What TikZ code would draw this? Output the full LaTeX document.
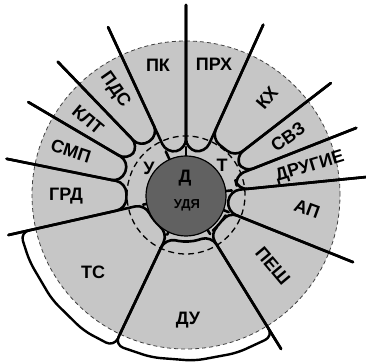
\documentclass[tikz,border=0pt]{standalone}
\usepackage{fontspec}
\setmainfont{Liberation Sans}
\begin{document}
\begin{tikzpicture}[x=1pt,y=1pt,
  ray/.style={line width=2.6pt, line cap=round, line join=round},
  sector/.style={line width=2.6pt, rounded corners=10pt, line join=round, line cap=round},
  tab/.style={line width=2.4pt, rounded corners=9pt, line join=round},
  lbl/.style={font=\fontsize{18}{18}\selectfont\bfseries, inner sep=0pt},
]
\useasboundingbox (-186,-168) rectangle (180,195);
% big disc
\fill[gray!45] (0,0) circle (154);
\draw[black!75, line width=0.8pt, dash pattern=on 4pt off 3pt] (0,0) circle (154);
% outer tabs of TC and DU
\draw[tab] (192.7:160) -- (192.7:170) -- (203:170) -- (218:170) -- (233:170) -- (244.6:168) -- (244.6:154);
\draw[tab] (244.6:154) -- (244.6:166) -- (258:166) -- (273:166) -- (288:166) -- (301.7:166) -- (301.7:156);
% inner dashed circle
\draw[line width=1.3pt, dash pattern=on 6pt off 4pt] (0,0) circle (59);
% narrow sectors
\foreach \a/\la/\b/\lb/\rc in {114.9/185/90/190/46, 90/190/65.6/187/46, 65.6/187/37.7/183/62,
  37.7/183/21.5/183/62, 21.5/183/5.7/181/52, 5.7/181/-21.9/180/44,
  192.7/182/168.6/183/61,
  168.6/183/149.5/183/66, 149.5/183/133.9/185/68, 133.9/185/114.9/185/66}
  \draw[sector] (\a:\la) -- (\a:\rc) -- (\b:\rc) -- (\b:\lb);
% wide sectors
\foreach \a/\la/\b/\lb/\rc in {-21.9/180/-58.3/181/45,
  -58.3/181/-115.4/154/48, -115.4/154/-167.3/182/42}
  \draw[sector] (\a:\la) -- (\a:\rc) -- ({(\a+\b)/2}:\rc) -- (\b:\rc) -- (\b:\lb);
% stubs to the centre
\foreach \a/\r in {90/48, 5.7/46, -21.9/46, -58.3/46, -115.4/44, -167.3/44, 114.9/48}
  \draw[ray] (\a:\r) -- (\a:38);
% central disc
\fill[black!62] (0,-1) circle (40);
\draw[line width=1.2pt] (0,-1) circle (40);
% labels
\node[lbl] (pk) at (-28,130) {ПК};
\node[lbl] (prh) at (28,131) {ПРХ};
\node[lbl, rotate=-55] (pds) at (-71,105) {ПДС};
\node[lbl, rotate=-40] (klt) at (-98,75) {КЛТ};
\node[lbl, rotate=-18] (smp) at (-115,44) {СМП};
\node[lbl] (grd) at (-120,-1) {ГРД};
\node[lbl] (ts) at (-93,-77) {ТС};
\node[lbl] (du) at (2,-125) {ДУ};
\node[lbl, rotate=-50] (pesh) at (87,-71) {ПЕШ};
\node[lbl, rotate=-20] (ap) at (121,-14) {АП};
\node[lbl, rotate=17] (dr) at (124,28) {ДРУГИЕ};
\node[lbl, rotate=35] (svz) at (102,58) {СВЗ};
\node[lbl, rotate=50] (kh) at (81,97) {КХ};
\node[lbl] (u) at (-37,27) {У};
\node[lbl] (t) at (36,30) {Т};
\node[lbl] (d) at (-1,17) {Д};
\node[lbl, font=\fontsize{13}{13}\selectfont\bfseries] (udya) at (1,-10) {УДЯ};
\end{tikzpicture}
\end{document}
